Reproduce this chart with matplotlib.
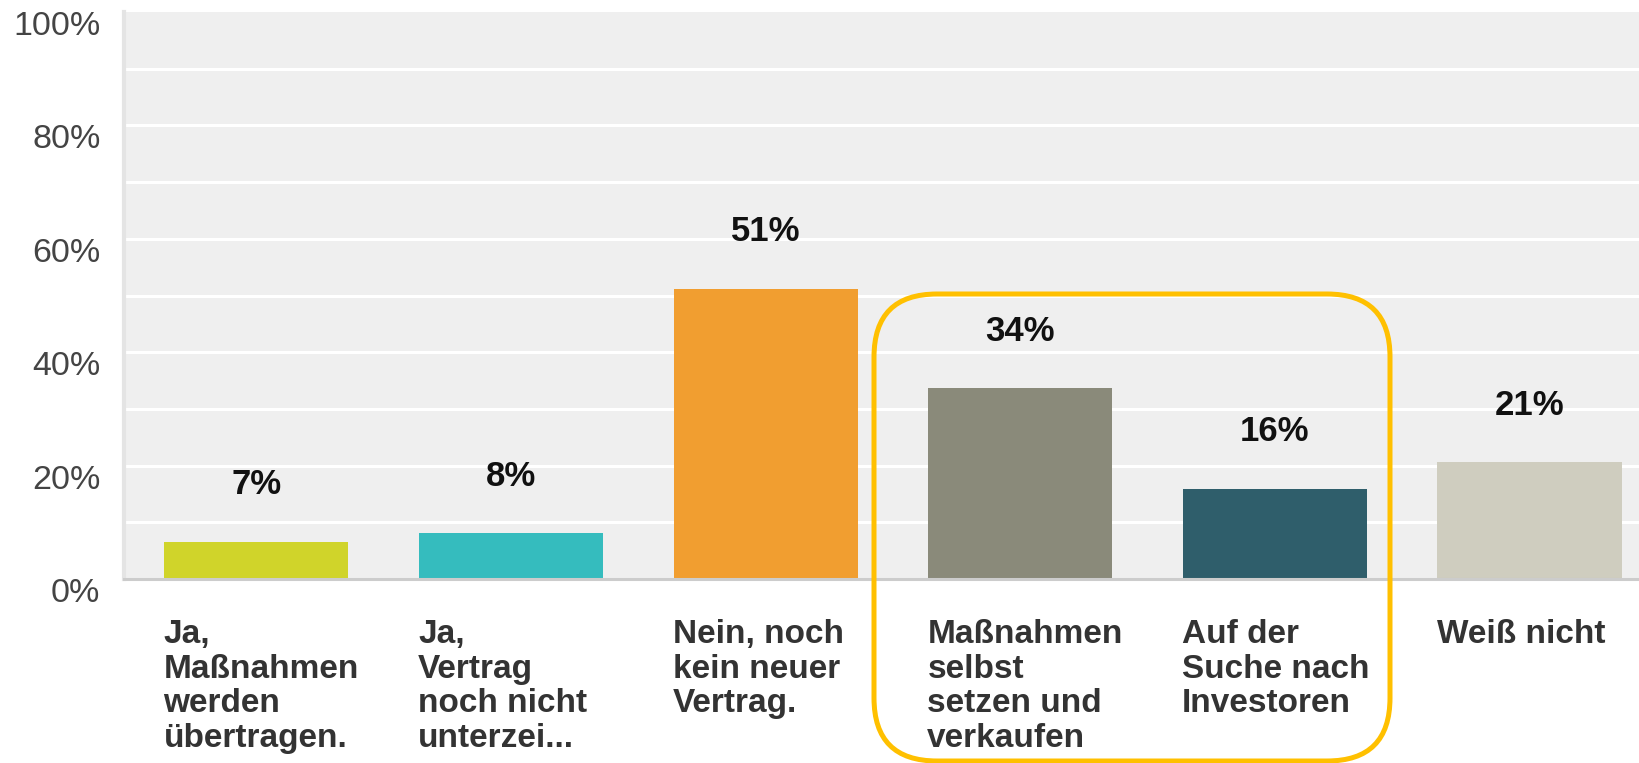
import matplotlib
matplotlib.use('Agg')
import matplotlib.pyplot as plt
from matplotlib.patches import FancyBboxPatch
from matplotlib.transforms import ScaledTranslation

categories = [
    'Ja,\nMaßnahmen\nwerden\nübertragen.',
    'Ja,\nVertrag\nnoch nicht\nunterzei...',
    'Nein, noch\nkein neuer\nVertrag.',
    'Maßnahmen\nselbst\nsetzen und\nverkaufen',
    'Auf der\nSuche nach\nInvestoren',
    'Weiß nicht',
]
values = [6.6, 8.1, 51.2, 33.6, 15.9, 20.6]
bar_colors = ['#d0d42a', '#35bcbe', '#f19e30', '#8a8a7a', '#2f5e6b', '#cfcdbf']
yticks = [0, 20, 40, 60, 80, 100]
ytick_labels = [f'{t}%' for t in yticks]

plt.rcParams['font.family'] = ['Liberation Sans', 'DejaVu Sans']

W, H = 1639, 763
fig = plt.figure(figsize=(W / 100, H / 100), dpi=100)
ax = fig.add_axes([124 / W, 184 / H, (W - 124) / W, 567 / H])
ax.set_facecolor('#efefef')

xs = list(range(len(values)))
ax.set_xlim(-0.52, 5.43)
ax.set_ylim(0, 100)

for y in range(10, 100, 10):
    ax.axhline(y, color='white', lw=2.2, zorder=1)

ax.bar(xs, values, width=0.723, color=bar_colors, zorder=2)

# value labels above bars
for x, v in zip(xs, values):
    ax.annotate(f'{v:.0f}%', (x, v), xytext=(0, 41), textcoords='offset points',
                ha='center', va='center', fontsize=25, fontweight='bold', color='#111111')

# category labels under the axis, left aligned with bars
for x, cat in zip(xs, categories):
    ax.annotate(cat, xy=(x - 0.365, 0), xycoords=('data', 'axes fraction'),
                xytext=(0, -29), textcoords='offset points', ha='left', va='top',
                fontsize=24, fontweight='bold', color='#333333', linespacing=1.15,
                annotation_clip=False)

ax.set_xticks([])
ax.set_yticks(yticks, ytick_labels)
ax.tick_params(axis='y', length=0, pad=17, labelsize=24.5, labelcolor='#444444')
offset = ScaledTranslation(0, -11 / 100, fig.dpi_scale_trans)
for lab in ax.get_yticklabels():
    lab.set_transform(lab.get_transform() + offset)

for side in ['top', 'right']:
    ax.spines[side].set_visible(False)
ax.spines['left'].set_color('#e4e4e4')
ax.spines['left'].set_linewidth(3)
ax.spines['bottom'].set_color('#cccccc')
ax.spines['bottom'].set_linewidth(2.2)
ax.spines['bottom'].set_zorder(3)

# highlight box round two categories
box = FancyBboxPatch((8.74, 0.02), 5.16, 4.67,
                     boxstyle='round,pad=0,rounding_size=0.63',
                     transform=fig.dpi_scale_trans, fill=False,
                     edgecolor='#ffc000', linewidth=3.6, clip_on=False)
fig.add_artist(box)

fig.savefig('out.png', dpi=100)
